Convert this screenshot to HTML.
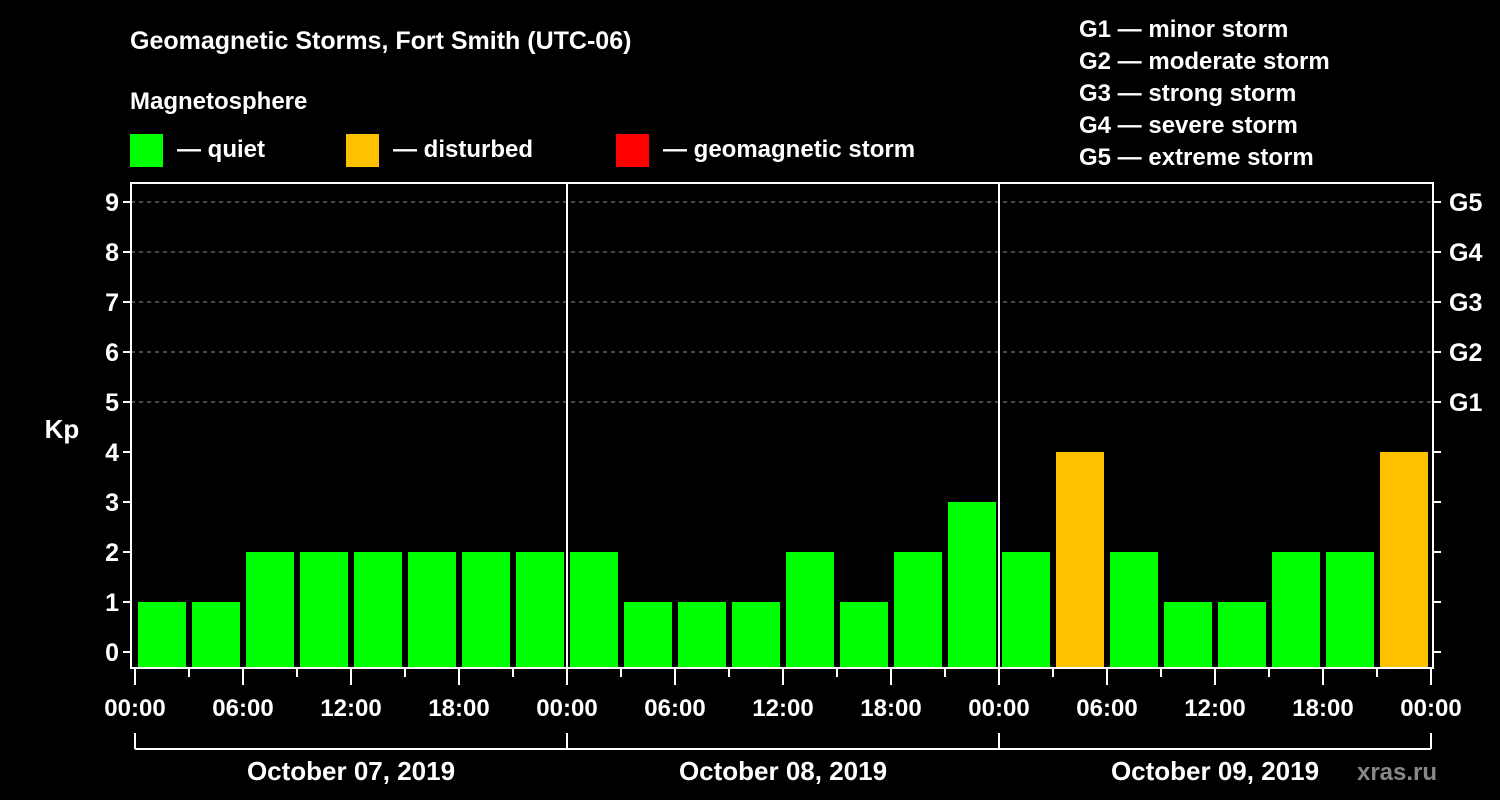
<!DOCTYPE html>
<html><head><meta charset="utf-8"><style>
html,body{margin:0;padding:0;background:#000;}
svg{display:block;font-family:"Liberation Sans",Arial,sans-serif;font-weight:bold;}
</style></head><body>
<svg id="chart" width="1500" height="800" viewBox="0 0 1500 800">
<rect width="1500" height="800" fill="#000"/>
<text x="130" y="49" fill="#fff" font-size="25">Geomagnetic Storms, Fort Smith (UTC-06)</text>
<text x="130" y="109" fill="#fff" font-size="24">Magnetosphere</text>
<g><rect x="130" y="134" width="33" height="33" fill="#00ff00"/><text x="177" y="157" fill="#fff" font-size="24">— quiet</text></g>
<g><rect x="346" y="134" width="33" height="33" fill="#ffc000"/><text x="393" y="157" fill="#fff" font-size="24">— disturbed</text></g>
<g><rect x="616" y="134" width="33" height="33" fill="#ff0000"/><text x="663" y="157" fill="#fff" font-size="24">— geomagnetic storm</text></g>
<g fill="#fff" font-size="24">
<text x="1079" y="37">G1 — minor storm</text>
<text x="1079" y="69">G2 — moderate storm</text>
<text x="1079" y="101">G3 — strong storm</text>
<text x="1079" y="133">G4 — severe storm</text>
<text x="1079" y="165">G5 — extreme storm</text>
</g>
<text x="62" y="438" fill="#fff" font-size="26" text-anchor="middle">Kp</text>
<text x="1397" y="780" fill="#888" font-size="24" text-anchor="middle">xras.ru</text>
<g id="grid"></g><g id="bars"></g><g id="axes"></g>
</svg>
<script>
const kpValues=[1,1,2,2,2,2,2,2, 2,1,1,1,2,1,2,3, 2,4,2,1,1,2,2,4];
const yTicks=[0,1,2,3,4,5,6,7,8,9];
const gLabels=["G1","G2","G3","G4","G5"];
const xTickLabels=["00:00","06:00","12:00","18:00"];
const dayLabels=["October 07, 2019","October 08, 2019","October 09, 2019"];
const NS="http://www.w3.org/2000/svg";
const L=131,R=1433,T=183,B=668,X0=135,STEP=54;
function y(v){return 652-v*50;}
function x(i){return X0+i*STEP;}
function mk(tag,attrs,parent,text){const e=document.createElementNS(NS,tag);for(const k in attrs)e.setAttribute(k,attrs[k]);if(text!==undefined)e.textContent=text;document.getElementById(parent).appendChild(e);return e;}
function color(v){return v>=5?"#ff0000":v>=4?"#ffc000":"#00ff00";}
for(let v=5;v<=9;v++){const g=mk("line",{x1:L,x2:R,y1:y(v),y2:y(v),stroke:"#888","stroke-dasharray":"4,4","stroke-width":1},"grid");

}
kpValues.forEach((v,i)=>{const r=mk("rect",{x:x(i)+3,y:y(v),width:48,height:B-1-y(v),fill:color(v)},"bars");

});
// frame
const f=mk("rect",{x:L,y:T,width:R-L,height:B-T,fill:"none",stroke:"#fff","stroke-width":2},"axes");


for(let d=1;d<3;d++){const l=mk("line",{x1:x(d*8),x2:x(d*8),y1:T,y2:B,stroke:"#fff","stroke-width":2},"axes");

}
yTicks.forEach(v=>{mk("line",{x1:L-8,x2:L,y1:y(v),y2:y(v),stroke:"#fff","stroke-width":2},"axes");
mk("line",{x1:R,x2:R+8,y1:y(v),y2:y(v),stroke:"#fff","stroke-width":2},"axes");
const t=mk("text",{x:L-12,y:y(v)+9,fill:"#fff","font-size":25,"text-anchor":"end"},"axes",String(v));

});
gLabels.forEach((g,i)=>{const t=mk("text",{x:1449,y:y(i+5)+9,fill:"#fff","font-size":25},"axes",g);

});
for(let i=0;i<=24;i++){const major=i%2==0;mk("line",{x1:x(i),x2:x(i),y1:B,y2:major?685:677,stroke:"#fff","stroke-width":2},"axes");
if(major){const t=mk("text",{x:x(i),y:716,fill:"#fff","font-size":24,"text-anchor":"middle"},"axes",xTickLabels[(i/2)%4]);

}}
mk("line",{x1:x(0),x2:x(24),y1:749,y2:749,stroke:"#fff","stroke-width":2},"axes");
for(let d=0;d<=3;d++)mk("line",{x1:x(d*8),x2:x(d*8),y1:733,y2:749,stroke:"#fff","stroke-width":2},"axes");
dayLabels.forEach((s,d)=>{const t=mk("text",{x:x(d*8+4),y:780,fill:"#fff","font-size":26,"text-anchor":"middle"},"axes",s);

});
</script>
</body></html>
